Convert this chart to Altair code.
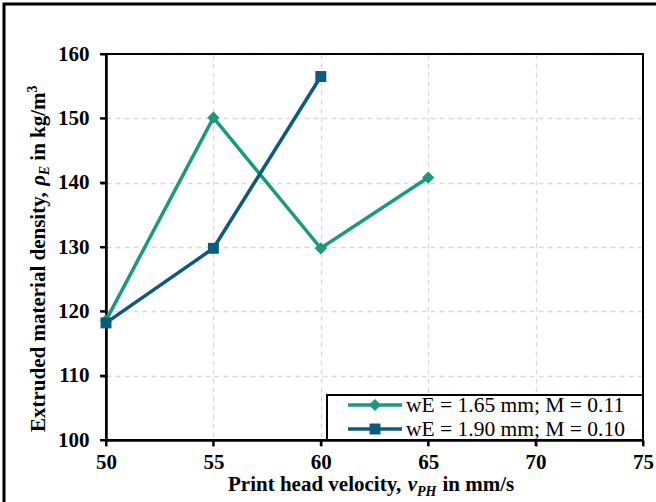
import altair as alt
import pandas as pd

# ---- data ----
series_names = ["wE = 1.65 mm; M = 0.11", "wE = 1.90 mm; M = 0.10"]
series_colors = ["#1a9a7a", "#0d5b7c"]
series_shapes = ["diamond", "square"]
velocity_a = [50, 55, 60, 65]
density_a = [118.6, 150.1, 129.8, 140.8]
velocity_b = [50, 55, 60]
density_b = [118.2, 129.8, 156.5]
x_ticks = [50, 55, 60, 65, 70, 75]
y_ticks = [100, 110, 120, 130, 140, 150, 160]

df = pd.concat([
    pd.DataFrame({"v": velocity_a, "rho": density_a, "series": series_names[0]}),
    pd.DataFrame({"v": velocity_b, "rho": density_b, "series": series_names[1]}),
], ignore_index=True)

W, H = 537, 386
FONT = "Liberation Serif"

xs = alt.Scale(domain=[50, 75], nice=False, zero=False)
ys = alt.Scale(domain=[100, 160], nice=False, zero=False)
cs = alt.Scale(domain=series_names, range=series_colors)

xax = alt.Axis(values=x_ticks, title=None, labelFlush=False, labelPadding=5,
               labelOverlap=False, format="d", ticks=True, tickSize=6, tickColor="black", tickWidth=2)
yax = alt.Axis(values=y_ticks, title=None, labelPadding=11, labelOverlap=False, format="d",
               ticks=True, tickSize=6, tickColor="black", tickWidth=2)

X = alt.X("v:Q", scale=xs, axis=xax)
Y = alt.Y("rho:Q", scale=ys, axis=yax)

base = alt.Chart(df)

lines = base.mark_line(strokeWidth=3.5).encode(
    x=X, y=Y, color=alt.Color("series:N", scale=cs, legend=None), detail="series:N"
)
pts_a = base.transform_filter(alt.datum.series == series_names[0]).mark_point(
    shape="diamond", filled=True, size=150, opacity=1
).encode(x=X, y=Y, color=alt.Color("series:N", scale=cs, legend=None))
pts_b = base.transform_filter(alt.datum.series == series_names[1]).mark_point(
    shape="square", filled=True, size=120, opacity=1
).encode(x=X, y=Y, color=alt.Color("series:N", scale=cs, legend=None))

# explicit tick marks (drawn through the axis scales)
xtick_rules = alt.Chart(pd.DataFrame({"v": x_ticks})).mark_rule(color="black", strokeWidth=2).encode(
    x=X, y=alt.value(H), y2=alt.value(H + 6)
)
ytick_rules = alt.Chart(pd.DataFrame({"rho": y_ticks})).mark_rule(color="black", strokeWidth=2).encode(
    y=Y, x=alt.value(-6), x2=alt.value(0)
)

one = alt.Data(values=[{}])

def txt(s, x, y, size=21, style="normal", angle=0, weight="bold", baseline="alphabetic"):
    return alt.Chart(one).mark_text(
        text=s, font=FONT, fontSize=size, fontWeight=weight, fontStyle=style,
        align="left", baseline=baseline, angle=angle, color="black"
    ).encode(x=alt.value(x), y=alt.value(y))

# x-axis title pieces
xb = H + 51
x0 = 122
titles = [
    txt("Print head velocity,", x0, xb),
    txt("v", x0 + 179.7, xb, style="italic"),
    txt("PH", x0 + 189.0, xb + 5, size=14, style="italic"),
    txt("in mm/s", x0 + 214.5, xb),
]
# y-axis title pieces (rotated, reading upwards)
yb = -61
y0 = 378
titles += [
    txt("Extruded material density,", yb, y0, angle=270),
    txt("\u03c1", yb, y0 - 246.2, style="italic", angle=270),
    txt("E", yb + 4, y0 - 256.7, size=14, style="italic", angle=270),
    txt("in kg/m", yb, y0 - 271.3, angle=270),
    txt("3", yb - 8, y0 - 339.6, size=14, angle=270),
]

# legend (box, line+marker symbols, labels)
LX0, LX1, LY0, LY1 = 221, W, 341, H
row_y = [351, 375]
legend_parts = [
    alt.Chart(one).mark_rect(fill="white", stroke="black", strokeWidth=2).encode(
        x=alt.value(LX0), x2=alt.value(LX1), y=alt.value(LY0), y2=alt.value(LY1)
    )
]
for name, col, shp, ry in zip(series_names, series_colors, series_shapes, row_y):
    legend_parts.append(
        alt.Chart(one).mark_rule(color=col, strokeWidth=3.5).encode(
            x=alt.value(242), x2=alt.value(296), y=alt.value(ry)
        )
    )
    legend_parts.append(
        alt.Chart(one).mark_point(shape=shp, filled=True, color=col, opacity=1,
                                  size=150 if shp == "diamond" else 120).encode(
            x=alt.value(269), y=alt.value(ry)
        )
    )
    legend_parts.append(
        txt(name, 300, ry + 1, size=21.5, weight="normal", baseline="middle")
    )

frame = alt.Chart(one).mark_rect(fillOpacity=0, stroke="black", strokeWidth=3).encode(
    x=alt.value(-102), y=alt.value(-50), x2=alt.value(580), y2=alt.value(480)
)
border = alt.Chart(one).mark_rect(fillOpacity=0, stroke="black", strokeWidth=2).encode(
    x=alt.value(0), y=alt.value(0), x2=alt.value(W), y2=alt.value(H)
)

chart = alt.layer(frame, border, xtick_rules, ytick_rules, lines, pts_a, pts_b,
                  *legend_parts, *titles).properties(
    width=W, height=H,
    autosize=alt.AutoSizeParams(type="none"),
    padding={"left": 106, "top": 54, "right": 13, "bottom": 62},
    background="white",
).configure_view(
    stroke=None
).configure_axis(
    labelFont=FONT, labelFontSize=21, labelFontWeight="bold", labelColor="black",
    domainColor="black", domainWidth=2.5,
    gridColor="#d9d9d9", gridDash=[5, 4], gridWidth=1.3,
)

chart.save("out.html", embed_options={"renderer": "svg", "actions": False})
